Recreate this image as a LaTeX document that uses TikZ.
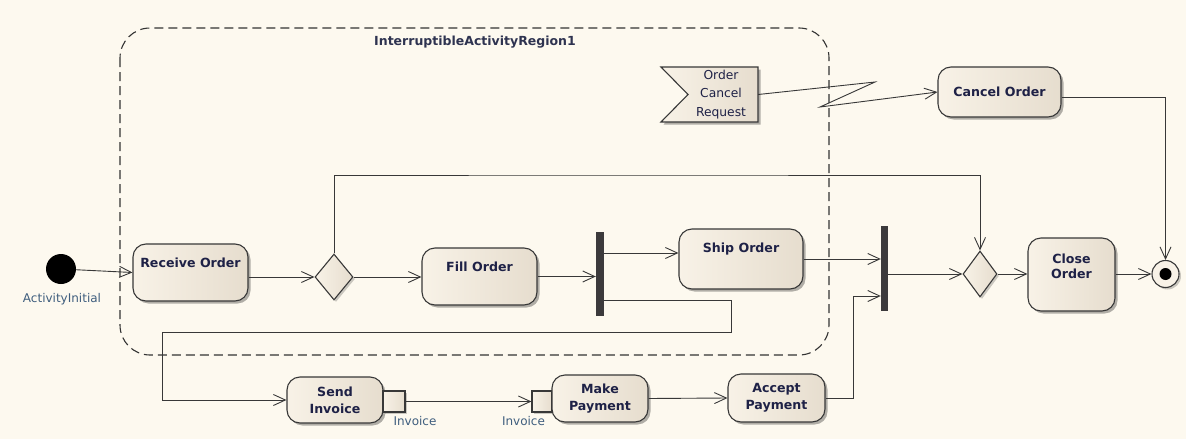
\documentclass[tikz,border=0pt]{standalone}
\usepackage{fontspec}
\setmainfont{DejaVu Sans}
\usepackage{tikz}
\usetikzlibrary{shapes.geometric,arrows.meta,shadows}
\usepackage{xcolor}

\definecolor{bgcream}{HTML}{FDF9EF}
\definecolor{actleft}{HTML}{F8F2E7}
\definecolor{actright}{HTML}{E6DDCE}
\definecolor{edgegray}{HTML}{383838}
\definecolor{barcol}{HTML}{3C3A3C}
\definecolor{textnavy}{HTML}{1E2146}
\definecolor{titlecol}{HTML}{2E3350}
\definecolor{lblblue}{HTML}{3F5E7E}

\tikzset{
  action/.style={draw=edgegray, line width=1.1pt, rounded corners=13pt,
    left color=actleft, right color=actright, text=textnavy,
    font=\bfseries\fontsize{12.6}{17}\selectfont, align=center, inner sep=0pt,
    drop shadow={shadow xshift=2.5pt, shadow yshift=-2.5pt, opacity=0.3, fill=black}},
  decision/.style={diamond, draw=edgegray, line width=1.1pt, left color=actleft,
    right color=actright, inner sep=0pt, minimum width=38pt, minimum height=46pt,
    drop shadow={shadow xshift=2pt, shadow yshift=-2pt, opacity=0.2, fill=black}},
  forkbar/.style={fill=barcol, inner sep=0pt, minimum width=8pt, minimum height=84pt},
  pinbox/.style={draw=edgegray, line width=1.1pt, left color=actleft, right color=actright,
    inner sep=0pt, minimum width=21pt, minimum height=21pt,
    drop shadow={shadow xshift=2pt, shadow yshift=-2pt, opacity=0.2, fill=black}},
  lbl/.style={text=lblblue, font=\fontsize{12}{14}\selectfont},
  flow/.style={draw=edgegray, line width=0.9pt, -{Straight Barb[length=12pt, width=11pt]}},
}

\begin{document}
\begin{tikzpicture}[x=1pt, y=-1pt]
					\fill[bgcream] (0,0) rectangle (1186,439);
					
					\draw[black!80, line width=1.1pt, dash pattern=on 9pt off 5pt, rounded corners=30pt] (120,28) rectangle (829,355);
					\node[font=\bfseries\fontsize{12.5}{14}\selectfont, text=titlecol] (regiontitle) at (475,42) {InterruptibleActivityRegion1};
					
					\node[circle, fill=black, minimum size=30pt, inner sep=0pt] (init) at (61,269) {};
					\node[lbl] (initlbl) at (62,299) {ActivityInitial};
					
					\node[action, anchor=base, minimum width=115pt, text height=23.4pt, text depth=33.6pt] (recv) at (190.5,267.4) {Receive Order};
					\node[decision] (dec1) at (334,277) {};
					\node[action, anchor=base, minimum width=115pt, text height=23.4pt, text depth=33.6pt] (fill) at (479.5,271.4) {Fill Order};
					\node[forkbar] (fork1) at (600,274) {};
					\node[action, anchor=base, minimum width=124pt, text height=23.4pt, text depth=36.6pt] (ship) at (741,252.4) {Ship Order};
					\node[forkbar, minimum width=7pt, minimum height=85pt] (fork2) at (884.5,268.5) {};
					\node[decision, minimum width=34pt] (dec2) at (980,274) {};
					\node[action, anchor=base, minimum width=87pt, text height=40.4pt, text depth=32.6pt,
						font=\bfseries\fontsize{12.6}{15}\selectfont] (close) at (1071.5,278.4) {Close\\Order};
					\node[circle, draw=edgegray, line width=1.1pt, fill=actleft, minimum size=27pt, inner sep=0pt,
						drop shadow={shadow xshift=2pt, shadow yshift=-2pt, opacity=0.2, fill=black},
						path picture={\fill[black] (path picture bounding box.center) circle (6pt);}] (final) at (1165.5,274) {};
					
					\path[draw=edgegray, line width=1.1pt, left color=actleft, right color=actright,
						drop shadow={shadow xshift=2.5pt, shadow yshift=-2.5pt, opacity=0.3, fill=black}]
						(661,67) -- (758,67) -- (758,122) -- (661,122) -- (688,94.5) -- cycle;
					\node[minimum width=74pt, minimum height=55pt, inner sep=0pt, align=center, text=textnavy,
						font=\fontsize{12.3}{18.5}\selectfont] (ocr) at (721,94.5) {Order\\Cancel\\Request};
					\node[action, minimum width=123pt, minimum height=50pt] (cancel) at (999.5,92) {Cancel Order};
					
					\node[action, minimum width=96pt, minimum height=46pt] (send) at (335,400) {Send\\Invoice};
					\node[pinbox, minimum width=22pt] (outpin) at (394,401.5) {};
					\node[lbl] (outlbl) at (415,421) {Invoice};
					\node[pinbox, minimum width=20pt] (inpin) at (542,401.5) {};
					\node[lbl] (inlbl) at (523.5,421) {Invoice};
					\node[action, minimum width=96pt, minimum height=47pt] (make) at (600,398.5) {Make\\Payment};
					\node[action, minimum width=97pt, minimum height=48pt] (accept) at (776.5,398) {Accept\\Payment};
					
					\coordinate (b1) at (731,332);
					\coordinate (b2) at (162,332);
					\coordinate (b3) at (853,296);
					\coordinate (b4) at (600,175);
					\coordinate (z1) at (875,82);
					\coordinate (z2) at (820,107);
					
					\draw[flow] (init) -- (recv.west);
					\draw[flow] (recv.east |- dec1.west) -- (dec1.west);
					\draw[flow] (dec1.east) -- (dec1.east -| fill.west);
					\draw[flow] (fill.east) -- (fill.east -| fork1.west);
					\draw[flow] ([yshift=6pt]fork1.east |- ship.west) -- ([yshift=6pt]ship.west);
					\draw[flow] ([yshift=-26pt]fork1.east) -| (b1) -- (b2) |- (send.west);
					\draw[flow] (ship.east) -- (ship.east -| fork2.west);
					\draw[flow] (accept.east) -| (b3) -- (b3 -| fork2.west);
					\draw[flow] (fork2.east |- dec2.west) -- (dec2.west);
					\draw[flow] (dec1.north) |- (b4) -| (dec2.north);
					\draw[flow] (dec2.east) -- (dec2.east -| close.west);
					\draw[flow] (close.east |- final.west) -- (final.west);
					\draw[flow] ([yshift=-5pt]cancel.east) -| (final.north);
					\draw[flow] (ocr.east) -- (z1) -- (z2) -- (cancel.west);
					\draw[flow] (outpin.east) -- (inpin.west);
					\draw[flow] (make.east) -- (accept.west);
					
				\end{tikzpicture}
\end{document}
